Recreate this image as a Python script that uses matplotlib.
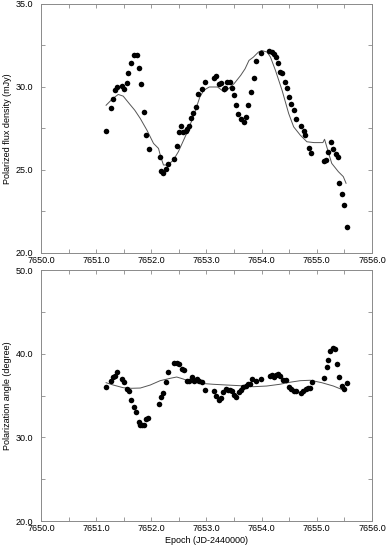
import matplotlib
matplotlib.use("Agg")
import matplotlib.pyplot as plt
from matplotlib.ticker import MultipleLocator, FormatStrFormatter

plt.rcParams['font.family'] = ['Liberation Sans', 'DejaVu Sans']

# Polarized flux density (mJy), observed points
flux_t = [7651.18, 7651.26, 7651.31, 7651.35, 7651.38, 7651.46, 7651.51, 7651.55,
          7651.58, 7651.63, 7651.69, 7651.74, 7651.77, 7651.81, 7651.86, 7651.90,
          7651.95, 7652.15, 7652.18, 7652.22, 7652.26, 7652.30, 7652.42, 7652.47,
          7652.50, 7652.54, 7652.58, 7652.62, 7652.65, 7652.68, 7652.72, 7652.76,
          7652.81, 7652.85, 7652.91, 7652.98, 7653.14, 7653.18, 7653.22, 7653.26,
          7653.31, 7653.34, 7653.38, 7653.42, 7653.46, 7653.50, 7653.54, 7653.58,
          7653.62, 7653.68, 7653.72, 7653.76, 7653.80, 7653.86, 7653.90, 7653.98,
          7654.14, 7654.18, 7654.22, 7654.26, 7654.29, 7654.34, 7654.37, 7654.42,
          7654.46, 7654.50, 7654.54, 7654.58, 7654.62, 7654.72, 7654.76, 7654.79,
          7654.85, 7654.90, 7655.13, 7655.17, 7655.20, 7655.25, 7655.30, 7655.34,
          7655.38, 7655.41, 7655.46, 7655.49, 7655.54]
flux = [27.35, 28.75, 29.26, 29.82, 30.02, 30.06, 29.86, 30.26, 30.82, 31.47,
        31.93, 31.93, 31.14, 30.16, 28.48, 27.11, 26.25, 25.80, 24.96, 24.80,
        25.04, 25.34, 25.66, 26.46, 27.31, 27.63, 27.29, 27.37, 27.47, 27.65,
        28.13, 28.42, 28.81, 29.56, 29.86, 30.30, 30.52, 30.66, 30.16, 30.24,
        29.86, 29.94, 30.28, 30.30, 29.94, 29.50, 28.92, 28.39, 28.06, 27.87,
        28.19, 28.92, 29.69, 30.52, 31.54, 32.05, 32.19, 32.08, 32.00, 31.83,
        31.42, 30.90, 30.83, 30.29, 29.92, 29.42, 28.96, 28.60, 28.10, 27.63,
        27.33, 27.11, 26.30, 26.00, 25.56, 25.60, 26.10, 26.67, 26.28, 25.98,
        25.80, 24.23, 23.55, 22.87, 21.59]

# model curve for the flux
flux_model_t = [7651.18, 7651.30, 7651.40, 7651.49, 7651.60, 7651.70, 7651.80, 7651.92,
                7652.04, 7652.13, 7652.17, 7652.22, 7652.30, 7652.40, 7652.49, 7652.64,
                7652.76, 7652.82, 7652.88, 7652.95, 7653.05, 7653.20, 7653.28, 7653.33,
                7653.40, 7653.50, 7653.62, 7653.70, 7653.77, 7653.85, 7653.94, 7654.00,
                7654.10, 7654.16, 7654.25, 7654.37, 7654.49, 7654.58, 7654.70, 7654.82,
                7654.95, 7655.11, 7655.14, 7655.18, 7655.27, 7655.39, 7655.48, 7655.53]
flux_model = [28.9, 29.3, 29.55, 29.45, 29.0, 28.6, 28.1, 27.4,
              26.6, 26.3, 25.8, 25.3, 25.3, 25.6, 26.1, 27.2,
              28.2, 28.8, 29.4, 29.8, 30.0, 30.0, 29.8, 29.7,
              29.9, 30.2, 30.7, 31.1, 31.6, 31.8, 32.1, 32.2,
              32.1, 31.8, 31.0, 29.8, 28.4, 27.6, 27.1, 26.7,
              26.65, 26.65, 26.85, 26.4, 25.4, 24.9, 24.6, 24.2]

# Polarization angle (degree), observed points
pa_t = [7651.18, 7651.26, 7651.30, 7651.34, 7651.38, 7651.47, 7651.50, 7651.55,
        7651.59, 7651.63, 7651.68, 7651.73, 7651.77, 7651.80, 7651.84, 7651.87,
        7651.90, 7651.94, 7652.14, 7652.18, 7652.22, 7652.26, 7652.30, 7652.42,
        7652.47, 7652.51, 7652.56, 7652.60, 7652.64, 7652.68, 7652.73, 7652.77,
        7652.82, 7652.87, 7652.92, 7652.98, 7653.14, 7653.18, 7653.22, 7653.26,
        7653.30, 7653.35, 7653.39, 7653.43, 7653.46, 7653.50, 7653.54, 7653.59,
        7653.63, 7653.67, 7653.72, 7653.76, 7653.79, 7653.83, 7653.89, 7653.98,
        7654.15, 7654.19, 7654.22, 7654.26, 7654.30, 7654.34, 7654.39, 7654.44,
        7654.50, 7654.54, 7654.58, 7654.63, 7654.72, 7654.75, 7654.80, 7654.84,
        7654.87, 7654.91, 7655.13, 7655.18, 7655.21, 7655.24, 7655.29, 7655.33,
        7655.37, 7655.41, 7655.45, 7655.49, 7655.54]
pa = [36.07, 36.75, 37.27, 37.35, 37.83, 37.03, 36.61, 35.80, 35.58, 34.48,
      33.62, 33.01, 31.85, 31.49, 31.45, 31.52, 32.24, 32.32, 34.02, 34.80,
      35.29, 36.61, 37.79, 38.91, 38.87, 38.79, 38.13, 38.07, 36.79, 36.75,
      37.27, 36.79, 36.96, 36.75, 36.61, 35.62, 35.56, 34.92, 34.53, 34.74,
      35.41, 35.76, 35.62, 35.62, 35.52, 35.13, 34.86, 35.38, 35.64, 36.00,
      36.21, 36.42, 36.39, 36.99, 36.79, 37.05, 37.33, 37.49, 37.20, 37.47,
      37.61, 37.39, 36.87, 36.90, 36.09, 35.77, 35.59, 35.58, 35.32, 35.56,
      35.83, 35.88, 35.91, 36.60, 37.15, 38.39, 39.21, 40.38, 40.67, 40.55,
      38.75, 37.27, 36.12, 35.83, 36.48]

# model curve for the angle
pa_model_t = [7651.18, 7651.31, 7651.49, 7651.64, 7651.80, 7651.98, 7652.16, 7652.34,
              7652.46, 7652.58, 7652.70, 7652.88, 7653.12, 7653.37, 7653.61, 7653.85,
              7654.09, 7654.33, 7654.51, 7654.70, 7654.88, 7655.09, 7655.30, 7655.51]
pa_model = [36.55, 36.27, 35.95, 35.88, 35.91, 36.27, 36.79, 37.07,
            37.23, 36.99, 36.67, 36.48, 36.36, 36.27, 36.19, 36.07,
            36.15, 36.36, 36.60, 36.79, 36.84, 36.55, 36.15, 35.59]

fig = plt.figure(figsize=(3.86, 5.47), dpi=100)
ax1 = fig.add_axes([0.1062, 0.5375, 0.8575, 0.4552])
ax2 = fig.add_axes([0.1062, 0.0475, 0.8575, 0.4584])

axis_grey = "#8a8a8a"

def style(ax, ylo, yhi, ymajor, yminor):
    ax.set_xlim(7650.0, 7656.0)
    ax.set_ylim(ylo, yhi)
    ax.xaxis.set_major_locator(MultipleLocator(1.0))
    ax.xaxis.set_minor_locator(MultipleLocator(0.5))
    ax.yaxis.set_major_locator(MultipleLocator(ymajor))
    ax.yaxis.set_minor_locator(MultipleLocator(yminor))
    ax.xaxis.set_major_formatter(FormatStrFormatter("%.1f"))
    ax.yaxis.set_major_formatter(FormatStrFormatter("%.1f"))
    ax.tick_params(which="both", direction="in", top=True, right=True,
                   color=axis_grey, width=0.6, labelsize=6.5, length=3)
    ax.tick_params(axis="x", pad=2.5)
    ax.tick_params(axis="y", pad=5.5)
    for s in ax.spines.values():
        s.set_color(axis_grey)
        s.set_linewidth(0.7)

style(ax1, 20.0, 35.0, 5.0, 2.5)
style(ax2, 20.0, 50.0, 10.0, 5.0)

ax1.plot(flux_model_t, flux_model, color="#555555", lw=0.7)
ax1.plot(flux_t, flux, "o", color="black", ms=4.0, mew=0)
ax1.set_ylabel("Polarized flux density (mJy)", fontsize=6.5, labelpad=3)

ax2.plot(pa_model_t, pa_model, color="#555555", lw=0.7)
ax2.plot(pa_t, pa, "o", color="black", ms=4.0, mew=0)
ax2.set_ylabel("Polarization angle (degree)", fontsize=6.5, labelpad=3)
ax2.set_xlabel("Epoch (JD-2440000)", fontsize=6.5, labelpad=2)

fig.savefig("out.png", dpi=100)
